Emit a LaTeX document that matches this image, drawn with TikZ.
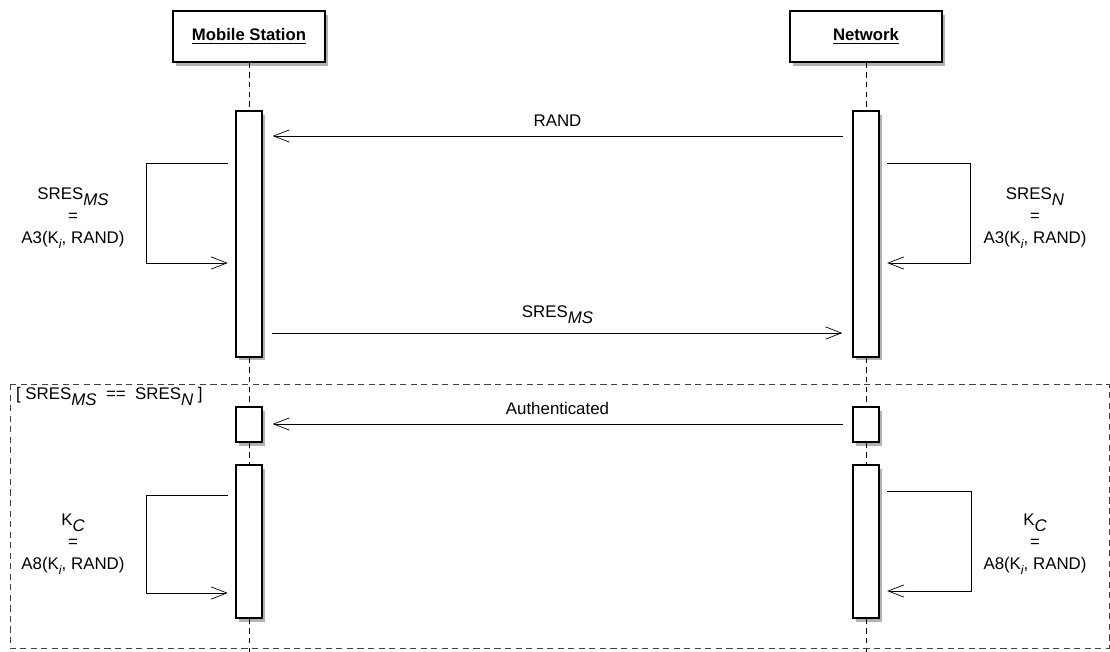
\documentclass[tikz,border=0pt]{standalone}
\usepackage{fontspec}
\setmainfont{Liberation Sans}
\usetikzlibrary{arrows.meta}
\usetikzlibrary{shadows}
\usetikzlibrary{positioning}
\newcommand{\subit}[1]{\raisebox{-0.65ex}{\itshape #1}}
\newcommand{\subsm}[1]{\raisebox{-0.55ex}{\scriptsize\itshape #1}}
\tikzset{
  softshadow/.style={drop shadow={shadow xshift=1.5pt, shadow yshift=-2pt, opacity=0.3, fill=black}},
  head/.style={draw, thick, fill=white, minimum width=3.04cm, minimum height=1.02cm,
               font=\fontsize{9.5}{11}\selectfont\bfseries, softshadow},
  actbar/.style={draw, thick, fill=white, minimum width=0.52cm, inner sep=0pt, softshadow},
  lifeline/.style={dash pattern=on 3pt off 2.5pt},
  msg/.style={-{Straight Barb[length=9pt,width=7pt]}, shorten <=0.18cm, shorten >=0.2cm},
  selfmsg/.style={-{Straight Barb[length=9pt,width=7pt]}, shorten <=0.15cm, shorten >=0.15cm},
  calcnote/.style={align=center, inner sep=0pt},
  guardframe/.style={dash pattern=on 3.5pt off 2.5pt, black!75},
}
\begin{document}
\begin{tikzpicture}[x=0.02cm, y=-0.02cm, font=\fontsize{9.6}{12.5}\selectfont]
  \useasboundingbox (0,0) rectangle (1110,652);

  % lifeline heads
  \node[head] (ms)  at (249,36.5) {\underline{Mobile Station}};
  \node[head] (net) at (866,36.5) {\underline{Network}};

  % activation bars
  \node[actbar, minimum height=4.92cm] (msA)  at (249,234) {};
  \node[actbar, minimum height=0.70cm] (msB)  at (249,424.5) {};
  \node[actbar, minimum height=3.06cm] (msC)  at (249,541.5) {};
  \node[actbar, minimum height=4.92cm] (netA) at (866,234) {};
  \node[actbar, minimum height=0.70cm] (netB) at (866,424.5) {};
  \node[actbar, minimum height=3.06cm] (netC) at (866,541.5) {};

  % lifelines
  \draw[lifeline] (ms) -- (msA) (msA) -- (msB) (msB) -- (msC) (msC.south) -- (msC.south |- 0,652);
  \draw[lifeline] (net) -- (netA) (netA) -- (netB) (netB) -- (netC) (netC.south) -- (netC.south |- 0,652);

  % guard frame
  \draw[guardframe] (10,384) rectangle (1109,648);
  \node[anchor=north west, inner sep=1pt] (guard) at (14,385)
    {[ SRES\subit{MS} \ == \ SRES\subit{N} ]};

  % messages
  \draw[msg] (netA.west |- 0,136) -- (msA.east |- 0,136) node[midway, above=2pt] {RAND};
  \draw[msg] (msA.east |- 0,333) -- (netA.west |- 0,333) node[midway, above=2pt] {SRES\subit{MS}};
  \draw[msg] (netB.west |- 0,424) -- (msB.east |- 0,424) node[midway, above=2pt] {Authenticated};

  % self calls
  \draw[selfmsg] (msA.west |- 0,163) -- (146,163) -- (146,263) -- (msA.west |- 0,263);
  \draw[selfmsg] (netA.east |- 0,163) -- (970,163) -- (970,263) -- (netA.east |- 0,263);
  \draw[selfmsg] (msC.west |- 0,495) -- (146,495) -- (146,593) -- (msC.west |- 0,593);
  \draw[selfmsg] (netC.east |- 0,491) -- (971,491) -- (971,591) -- (netC.east |- 0,591);

  \node[calcnote] (msSres)  at (73,218)   {SRES\subit{MS}\\=\\A3(K\subsm{i}, RAND)};
  \node[calcnote] (netSres) at (1035,218) {SRES\subit{N}\\=\\A3(K\subsm{i}, RAND)};
  \node[calcnote] (msKc)    at (73,544)   {K\subit{C}\\=\\A8(K\subsm{i}, RAND)};
  \node[calcnote] (netKc)   at (1035,544) {K\subit{C}\\=\\A8(K\subsm{i}, RAND)};
\end{tikzpicture}
\end{document}
